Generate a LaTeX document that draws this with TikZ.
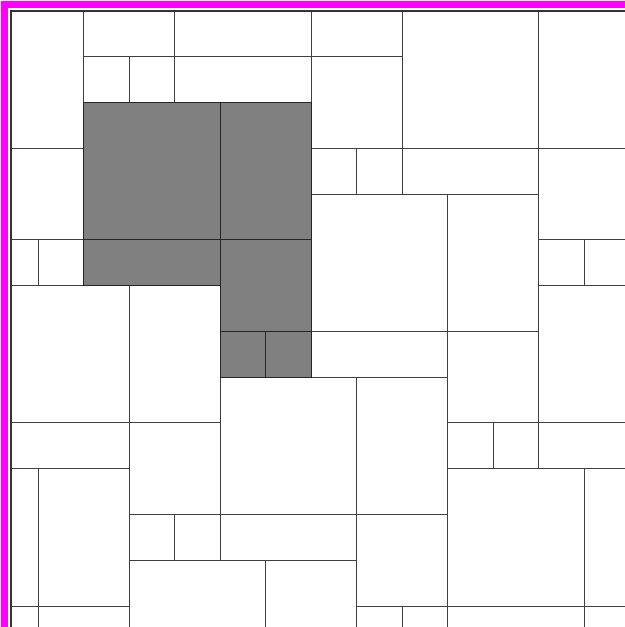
\documentclass[tikz,border=0pt]{standalone}
\usepackage{xcolor}
\usepackage{tikz}
\usetikzlibrary{positioning}
\definecolor{edgemag}{RGB}{255,0,255}
\definecolor{blockgray}{RGB}{128,128,128}

\begin{document}
\begin{tikzpicture}[
  x=45.5pt, y=-45.77pt,
  cell/.style={draw=black!75, line width=0.9pt, fill=white},
  shaded/.style={cell, draw=black!85, fill=blockgray},
  frame/.style={draw=black!80, line width=1.6pt},
  edge/.style={draw=edgemag, line width=7pt, line join=miter}
]
\useasboundingbox (-0.8352,-0.2403) rectangle (12.901,13.459);
\def\L{-0.6}
\def\R{13.2}
\def\B{13.8}

% open cells
\foreach \a/\b/\c/\d in {
  \L/0/1/3, \L/3/1/5, \L/5/0/6, 0/5/1/6,
  \L/6/2/9, \L/9/2/10, \L/10/0/13, 0/10/2/13, \L/13/0/\B, 0/13/2/\B,
  2/6/4/9, 2/9/4/11, 2/11/3/12, 3/11/4/12, 2/12/5/\B, 5/12/7/\B,
  4/8/7/11, 4/11/7/12, 7/8/9/11, 7/11/9/13, 7/13/8/\B, 8/13/9/\B,
  1/0/3/1, 3/0/6/1, 1/1/2/2, 2/1/3/2, 3/1/6/2,
  6/0/8/1, 6/1/8/3, 8/0/11/3, 11/0/\R/3,
  6/3/7/4, 7/3/8/4, 8/3/11/4,
  6/4/9/7, 9/4/11/7, 6/7/9/8, 9/7/11/9,
  11/3/\R/5, 11/5/12/6, 12/5/\R/6, 11/6/\R/9,
  9/9/10/10, 10/9/11/10, 11/9/\R/10,
  9/10/12/13, 12/10/\R/13, 9/13/12/\B, 12/13/\R/\B}
  \draw[cell] (\a,\b) rectangle (\c,\d);

% filled block
\foreach \a/\b/\c/\d in {1/2/4/5, 4/2/6/5, 1/5/4/6, 4/5/6/7, 4/7/5/8, 5/7/6/8}
  \draw[shaded] (\a,\b) rectangle (\c,\d);

% outer border
\draw[frame] (\L,\B) -- (\L,0) -- (\R,0);
\draw[edge] (-0.73,\B) -- (-0.73,-0.145) -- (\R,-0.145);
\end{tikzpicture}
\end{document}
